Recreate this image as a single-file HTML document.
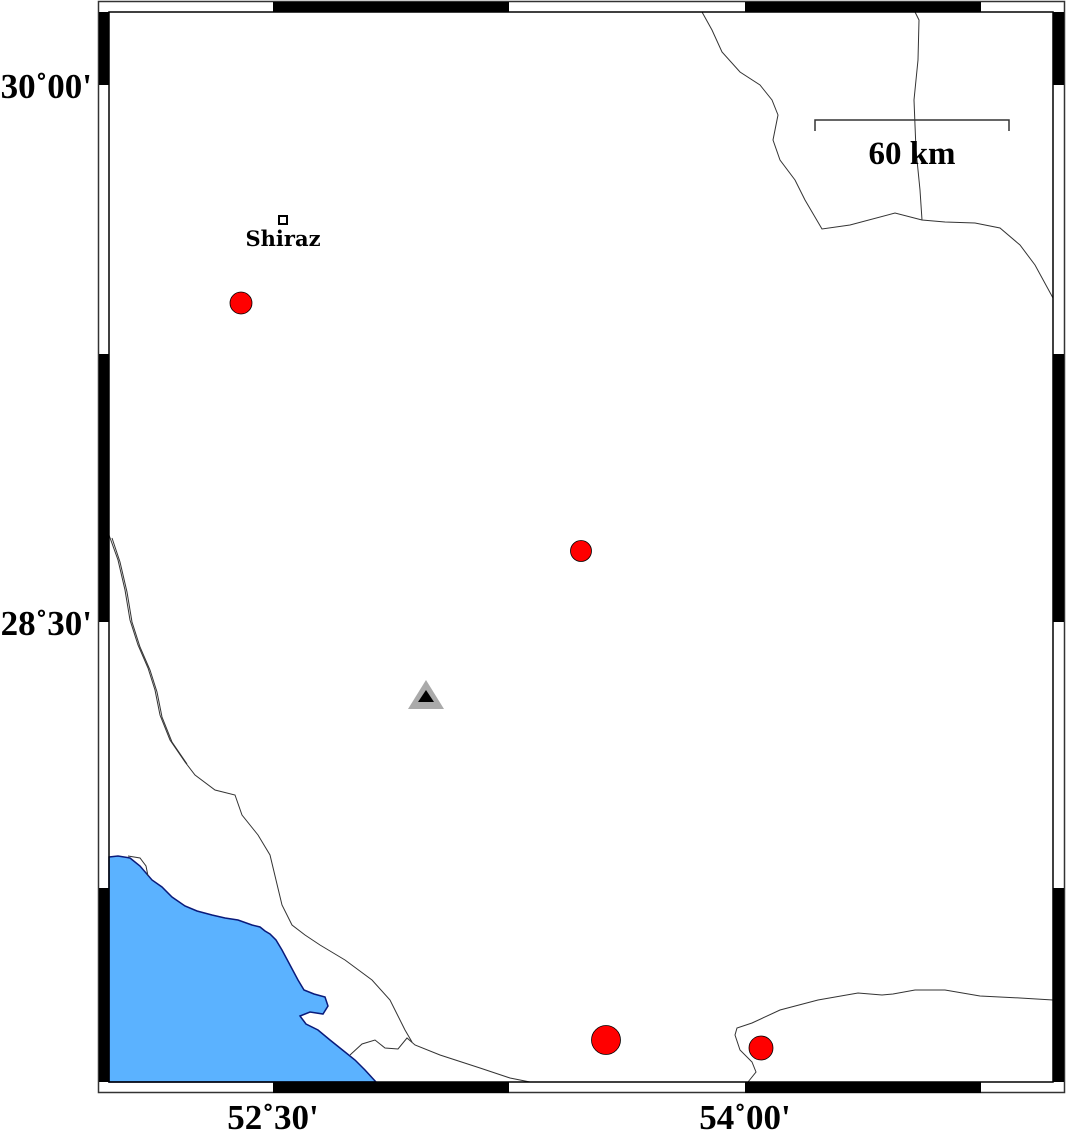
<!DOCTYPE html>
<html><head><meta charset="utf-8"><style>
html,body{margin:0;padding:0;background:#fff;}
svg{display:block;}
</style></head><body>
<svg width="1066" height="1132" viewBox="0 0 1066 1132" xmlns="http://www.w3.org/2000/svg">
<rect width="1066" height="1132" fill="#fff"/>
<path d="M109,857 L118,856 L130,858 L140,866 L152,880 L162,887 L172,897 L185,906 L197,911 L212,915 L225,918 L238,920 L252,925 L260,927 L265,931 L270,934 L276,940 L282,950 L290,965 L298,980 L304,990 L314,994 L325,997 L328,1006 L323,1014 L310,1012 L300,1016 L306,1024 L318,1030 L330,1040 L345,1052 L355,1060 L365,1070 L376,1082 L109,1082 Z" fill="#5bb2ff" stroke="#0a1a7a" stroke-width="1.5"/>
<g fill="none" stroke="#333" stroke-width="1">
<path d="M109,535 L118,560 L125,590 L130,620 L138,645 L148,668 L155,690 L160,715 L170,740 L185,762 L195,775 L215,790 L235,795 L242,815 L258,835 L270,855 L276,880 L282,905 L292,925 L305,935 L320,945 L345,960 L372,980 L390,1000 L405,1030 L412,1042"/>
<path d="M112,538 L120,562 L127,592 L132,622 L140,647 L150,670 L157,692 L162,717 L172,742 L187,764"/>
<path d="M350,1055 L362,1044 L375,1040 L385,1048 L398,1049 L407,1038 L415,1045 L440,1055 L480,1068 L510,1078 L530,1082"/>
<path d="M702,12 L712,30 L722,52 L740,72 L760,85 L772,100 L778,115 L773,140 L780,160 L795,180 L805,200 L822,229 L850,225 L895,213 L922,220 L945,222 L975,223 L1000,228 L1020,245 L1035,265 L1053,298"/>
<path d="M915,12 L919,20 L918,60 L914,100 L916,150 L920,190 L922,220"/>
<path d="M748,1082 L756,1072 L752,1062 L740,1050 L735,1035 L737,1028 L752,1023 L780,1010 L818,1000 L858,993 L882,995 L893,994 L915,990 L945,990 L980,996 L1020,998 L1053,1000"/>
<path d="M128,856 L140,858 L146,866 L148,876"/>
</g>
<rect x="98.5" y="1.5" width="966" height="1091" fill="none" stroke="#333" stroke-width="1.5"/>
<rect x="109" y="12" width="944" height="1070" fill="none" stroke="#000" stroke-width="1.5"/>
<g fill="#000">
<rect x="273" y="2" width="236" height="10"/><rect x="745" y="2" width="236" height="10"/>
<rect x="273" y="1082" width="236" height="11"/><rect x="745" y="1082" width="236" height="11"/>
<rect x="99" y="12" width="10" height="73"/><rect x="99" y="354" width="10" height="268"/><rect x="99" y="888" width="10" height="194"/>
<rect x="1053" y="12" width="11" height="73"/><rect x="1053" y="354" width="11" height="268"/><rect x="1053" y="888" width="11" height="194"/>
</g>
<path d="M815,131 L815,120 L1009,120 L1009,131" fill="none" stroke="#333" stroke-width="1.5"/>
<text x="912" y="164" font-family="Liberation Serif,serif" font-weight="bold" font-size="33" text-anchor="middle">60 km</text>
<rect x="279" y="216" width="8" height="8" fill="#fff" stroke="#000" stroke-width="2"/>
<text x="283" y="246" font-family="DejaVu Serif,serif" font-weight="bold" font-size="21" text-anchor="middle">Shiraz</text>
<g fill="#ff0000" stroke="#000" stroke-width="0.8">
<circle cx="241" cy="303" r="11"/>
<circle cx="581" cy="551" r="10.5"/>
<circle cx="606" cy="1040" r="14.5"/>
<circle cx="761" cy="1048" r="12"/>
</g>
<polygon points="426,680 444,709 408,709" fill="#aaa"/>
<polygon points="426,690 434,702 418,702" fill="#000"/>
<g font-family="Liberation Serif,serif" font-weight="bold" font-size="35">
<text x="92" y="98" text-anchor="end">30˚00'</text>
<text x="92" y="635" text-anchor="end">28˚30'</text>
<text x="273" y="1129" text-anchor="middle">52˚30'</text>
<text x="745" y="1129" text-anchor="middle">54˚00'</text>
</g>
</svg>
</body></html>
